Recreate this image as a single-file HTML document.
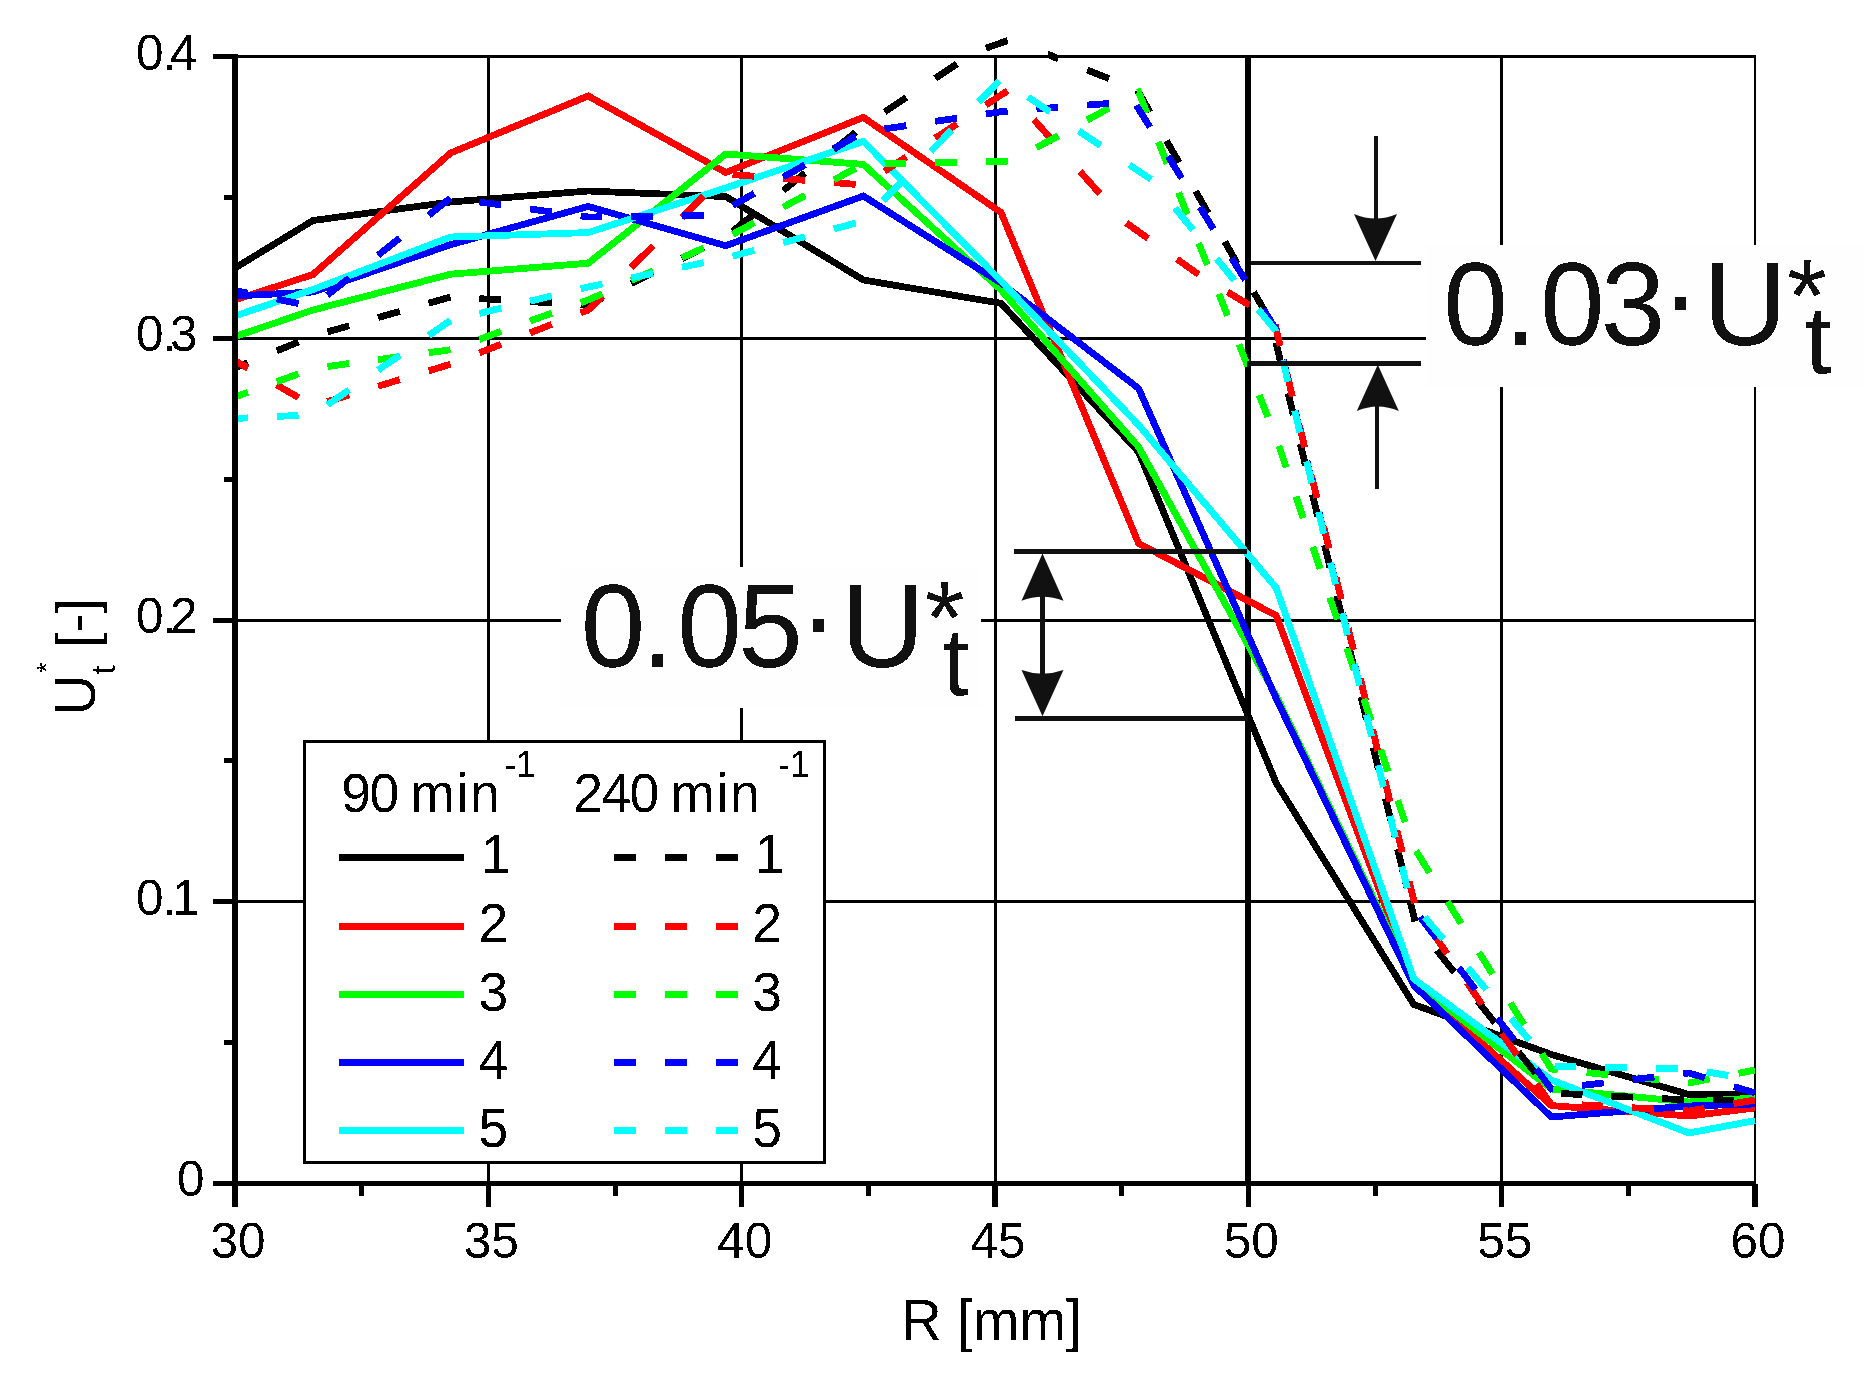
<!DOCTYPE html><html><head><meta charset="utf-8"><title>U*t vs R</title><style>html,body{margin:0;padding:0;background:#fff;overflow:hidden;}svg{display:block;}text{font-family:"Liberation Sans",Arial,sans-serif;filter:url(#bin);}line,polyline,rect{shape-rendering:crispEdges;}</style></head><body>
<svg width="1864" height="1373" viewBox="0 0 1864 1373">
<defs><filter id="bin" x="-20%" y="-20%" width="140%" height="140%" color-interpolation-filters="sRGB"><feComponentTransfer><feFuncA type="discrete" tableValues="0 1"/></feComponentTransfer></filter></defs>
<rect x="0" y="0" width="1864" height="1373" fill="#ffffff"/>
<line x1="235" y1="901.75" x2="1755" y2="901.75" stroke="#000" stroke-width="3"/>
<line x1="235" y1="620.00" x2="1755" y2="620.00" stroke="#000" stroke-width="3"/>
<line x1="235" y1="338.25" x2="1755" y2="338.25" stroke="#000" stroke-width="3"/>
<line x1="488.33" y1="56.5" x2="488.33" y2="1183.5" stroke="#000" stroke-width="3"/>
<line x1="741.67" y1="56.5" x2="741.67" y2="1183.5" stroke="#000" stroke-width="3"/>
<line x1="995.00" y1="56.5" x2="995.00" y2="1183.5" stroke="#000" stroke-width="3"/>
<line x1="1501.67" y1="56.5" x2="1501.67" y2="1183.5" stroke="#000" stroke-width="3"/>
<line x1="1248.33" y1="56.5" x2="1248.33" y2="1183.5" stroke="#000" stroke-width="6"/>
<line x1="233" y1="56.5" x2="1756" y2="56.5" stroke="#000" stroke-width="3"/>
<line x1="1755" y1="55" x2="1755" y2="1185" stroke="#000" stroke-width="2"/>
<polyline points="235.0,268.0 313.0,220.5 450.6,202.0 588.2,191.0 725.8,196.6 863.4,280.0 1001.0,303.3 1138.6,452.0 1276.2,783.0 1413.8,1004.5 1551.4,1054.5 1689.0,1094.5 1755.0,1094.5" fill="none" stroke="#000000" stroke-width="6.8" stroke-linejoin="miter" stroke-miterlimit="3"/>
<polyline points="235.0,300.0 313.0,274.5 450.6,153.0 588.2,96.0 725.8,172.5 863.4,117.4 1001.0,212.4 1138.6,543.3 1276.2,615.5 1413.8,982.0 1551.4,1105.6 1689.0,1116.0 1755.0,1108.0" fill="none" stroke="#ff0000" stroke-width="6.8" stroke-linejoin="miter" stroke-miterlimit="3"/>
<polyline points="235.0,336.6 313.0,310.0 450.6,274.2 588.2,263.2 725.8,154.0 863.4,164.4 1001.0,290.0 1138.6,447.0 1276.2,696.0 1413.8,982.0 1551.4,1089.0 1689.0,1102.0 1755.0,1098.0" fill="none" stroke="#00ff00" stroke-width="6.8" stroke-linejoin="miter" stroke-miterlimit="3"/>
<polyline points="235.0,296.0 313.0,292.0 450.6,244.7 588.2,206.4 725.8,245.7 863.4,196.0 1001.0,283.0 1138.6,388.4 1276.2,698.6 1413.8,985.3 1551.4,1117.0 1689.0,1106.0 1755.0,1104.0" fill="none" stroke="#0000ff" stroke-width="6.8" stroke-linejoin="miter" stroke-miterlimit="3"/>
<polyline points="235.0,316.0 313.0,289.5 450.6,237.0 588.2,232.6 725.8,188.0 863.4,141.4 1001.0,281.0 1138.6,425.0 1276.2,587.9 1413.8,978.9 1551.4,1080.0 1689.0,1133.0 1755.0,1120.6" fill="none" stroke="#00ffff" stroke-width="6.8" stroke-linejoin="miter" stroke-miterlimit="3"/>
<polyline points="235.0,368.0 313.0,336.0 450.6,297.0 588.2,305.0 725.8,236.8 863.4,126.0 975.0,52.0 1015.0,38.0 1055.0,57.5 1137.0,89.5 1271.0,322.0 1415.6,924.0 1551.4,1093.0 1689.0,1100.0 1755.0,1100.0" fill="none" stroke="#000000" stroke-width="6.8" stroke-dasharray="13.94 31.18 23.56 30.59 22.66 29.99 22.66 29.99 22.66 28.90 21.84 28.90 21.84 28.90 23.47 32.20 24.33 32.20 24.33 33.34 27.99 37.04 27.99 37.04 27.99 35.26 26.16 34.62 26.16 33.09 23.10 31.71 24.12 30.97 23.40 31.03 25.05 33.16 25.05 33.16 25.05 33.16 25.05 33.16 25.05 30.67 22.42 29.67 22.42 29.67 22.42 29.67 22.42 29.67 22.42 29.67 22.42 29.67 22.42 29.67 22.42 29.67 22.42 29.67 22.42 29.67 22.42 29.67 22.42 36.37 27.97 37.01 27.97 37.01 27.97 34.39 21.83 28.89 21.83 28.89 21.83 28.86 21.80 120.55" stroke-linejoin="miter" stroke-miterlimit="3"/>
<polyline points="235.0,360.7 313.0,406.0 450.6,364.2 588.2,310.0 725.8,174.0 863.4,185.0 1008.0,90.5 1125.0,222.0 1200.0,275.5 1274.0,320.0 1415.6,908.0 1550.0,1103.0 1689.0,1111.0 1755.0,1100.0" fill="none" stroke="#ff0000" stroke-width="6.8" stroke-dasharray="14.92 33.36 25.21 31.76 22.78 30.15 22.78 30.15 22.78 31.00 23.43 31.01 23.43 31.01 28.15 40.56 30.65 40.56 30.65 37.82 21.87 28.94 21.87 28.94 21.87 32.99 26.04 34.46 26.04 34.46 26.04 39.46 29.86 39.52 29.86 39.33 26.78 35.44 26.78 33.74 25.44 33.08 22.42 29.67 22.42 29.67 22.42 29.67 22.42 29.67 22.42 29.67 22.42 29.67 22.42 29.67 22.42 29.67 22.42 29.67 22.42 29.67 22.42 29.67 22.42 34.15 26.48 35.04 26.48 35.04 26.48 35.04 25.88 28.90 21.84 28.90 21.84 28.90 22.03 29.25 21.70 100.00" stroke-linejoin="miter" stroke-miterlimit="3"/>
<polyline points="235.0,397.0 313.0,368.5 450.6,349.7 588.2,300.0 725.8,238.0 863.4,164.0 1012.0,161.0 1138.6,92.0 1277.0,440.0 1413.0,846.0 1551.4,1069.0 1689.0,1083.0 1755.0,1070.0" fill="none" stroke="#00ff00" stroke-width="6.8" stroke-dasharray="13.73 30.72 23.21 29.92 22.00 29.12 22.00 29.12 22.00 30.67 23.18 30.67 23.18 30.67 23.66 31.64 23.91 31.64 23.91 31.91 24.75 32.76 24.75 32.76 24.75 29.90 21.80 28.86 21.80 28.86 21.80 32.25 24.83 32.86 24.83 32.86 23.51 31.05 23.46 31.05 23.46 31.05 23.46 31.05 23.46 31.05 23.46 31.05 23.46 30.92 22.99 30.43 22.99 30.43 22.99 30.43 22.99 30.43 22.99 30.43 22.99 30.43 22.99 30.43 22.99 31.03 25.66 33.95 25.66 33.95 25.66 33.95 25.66 33.95 24.57 29.00 21.91 29.00 21.91 29.00 22.20 29.40 16.77 100.00" stroke-linejoin="miter" stroke-miterlimit="3"/>
<polyline points="235.0,290.5 313.0,306.5 450.6,198.0 588.2,217.0 715.0,215.5 863.4,132.0 1001.0,111.7 1134.0,101.5 1276.2,329.7 1411.0,905.0 1551.4,1089.0 1689.0,1073.0 1755.0,1093.0" fill="none" stroke="#0000ff" stroke-width="6.8" stroke-dasharray="13.17 29.45 22.25 33.09 27.76 36.74 27.76 36.74 27.76 29.15 22.01 29.12 22.01 29.12 21.87 28.85 21.80 28.85 21.80 31.45 25.01 33.10 25.01 33.10 25.01 30.21 22.04 29.16 22.04 29.16 21.98 28.93 21.86 28.93 21.86 29.63 25.83 34.19 25.83 34.19 25.83 34.19 25.83 34.19 25.63 29.63 22.39 29.63 22.39 29.63 22.39 29.63 22.39 29.63 22.39 29.63 22.39 29.63 22.39 29.63 22.39 29.63 22.39 29.63 22.39 29.63 22.39 32.40 27.42 36.29 27.42 36.29 27.42 36.29 26.98 29.04 21.95 29.04 21.95 29.04 22.56 30.15 22.00 100.00" stroke-linejoin="miter" stroke-miterlimit="3"/>
<polyline points="235.0,418.5 313.0,414.7 450.6,320.4 588.2,287.0 725.8,258.0 863.4,221.0 1001.0,79.0 1152.0,180.0 1276.0,331.0 1410.0,900.0 1551.4,1066.0 1689.0,1069.0 1755.0,1080.0" fill="none" stroke="#00ffff" stroke-width="6.8" stroke-dasharray="12.92 28.88 21.83 31.92 26.43 34.97 26.43 34.97 26.43 29.71 22.43 29.69 22.43 29.69 22.33 29.48 22.28 29.48 22.28 29.58 22.57 29.87 22.57 29.87 22.57 36.62 29.52 39.07 29.52 39.07 29.52 34.97 26.23 34.71 26.23 34.71 26.23 37.26 28.21 37.33 28.21 37.33 28.17 29.64 22.40 29.64 22.40 29.64 22.40 29.64 22.40 29.64 22.40 29.64 22.40 29.64 22.40 29.64 22.40 29.64 22.40 29.64 22.40 29.64 22.40 34.55 28.64 37.90 28.64 37.90 28.64 36.93 21.81 28.86 21.81 28.86 21.81 29.09 22.10 127.12" stroke-linejoin="miter" stroke-miterlimit="3"/>
<rect x="1008" y="20" width="40" height="35" fill="#fff"/>
<line x1="233" y1="56.5" x2="1756" y2="56.5" stroke="#000" stroke-width="3"/>
<line x1="235" y1="54" x2="235" y2="1186" stroke="#000" stroke-width="6"/>
<line x1="232" y1="1183.5" x2="1756" y2="1183.5" stroke="#000" stroke-width="5"/>
<line x1="213" y1="1183.50" x2="235" y2="1183.50" stroke="#000" stroke-width="5"/>
<line x1="213" y1="901.75" x2="235" y2="901.75" stroke="#000" stroke-width="5"/>
<line x1="213" y1="620.00" x2="235" y2="620.00" stroke="#000" stroke-width="5"/>
<line x1="213" y1="338.25" x2="235" y2="338.25" stroke="#000" stroke-width="5"/>
<line x1="213" y1="56.50" x2="235" y2="56.50" stroke="#000" stroke-width="5"/>
<line x1="224" y1="1042.62" x2="235" y2="1042.62" stroke="#000" stroke-width="5"/>
<line x1="224" y1="760.88" x2="235" y2="760.88" stroke="#000" stroke-width="5"/>
<line x1="224" y1="479.12" x2="235" y2="479.12" stroke="#000" stroke-width="5"/>
<line x1="224" y1="197.38" x2="235" y2="197.38" stroke="#000" stroke-width="5"/>
<line x1="235.00" y1="1183.5" x2="235.00" y2="1207" stroke="#000" stroke-width="5.5"/>
<line x1="488.33" y1="1183.5" x2="488.33" y2="1207" stroke="#000" stroke-width="5.5"/>
<line x1="741.67" y1="1183.5" x2="741.67" y2="1207" stroke="#000" stroke-width="5.5"/>
<line x1="995.00" y1="1183.5" x2="995.00" y2="1207" stroke="#000" stroke-width="5.5"/>
<line x1="1248.33" y1="1183.5" x2="1248.33" y2="1207" stroke="#000" stroke-width="5.5"/>
<line x1="1501.67" y1="1183.5" x2="1501.67" y2="1207" stroke="#000" stroke-width="5.5"/>
<line x1="1755.00" y1="1183.5" x2="1755.00" y2="1207" stroke="#000" stroke-width="5.5"/>
<line x1="361.67" y1="1183.5" x2="361.67" y2="1196" stroke="#000" stroke-width="5"/>
<line x1="615.00" y1="1183.5" x2="615.00" y2="1196" stroke="#000" stroke-width="5"/>
<line x1="868.33" y1="1183.5" x2="868.33" y2="1196" stroke="#000" stroke-width="5"/>
<line x1="1121.67" y1="1183.5" x2="1121.67" y2="1196" stroke="#000" stroke-width="5"/>
<line x1="1375.00" y1="1183.5" x2="1375.00" y2="1196" stroke="#000" stroke-width="5"/>
<line x1="1628.33" y1="1183.5" x2="1628.33" y2="1196" stroke="#000" stroke-width="5"/>
<text x="136.1 162.5 169.9" y="69.5" font-size="49.5">0.4</text>
<text x="136.1 162.5 169.9" y="351.2" font-size="49.5">0.3</text>
<text x="136.1 162.5 169.9" y="633.0" font-size="49.5">0.2</text>
<text x="136.1 162.5 172.0" y="914.8" font-size="49.5">0.1</text>
<text x="177.1" y="1195.8" font-size="49.5">0</text>
<text x="238.0" y="1257.5" font-size="49.5" text-anchor="middle">30</text>
<text x="491.3" y="1257.5" font-size="49.5" text-anchor="middle">35</text>
<text x="744.7" y="1257.5" font-size="49.5" text-anchor="middle">40</text>
<text x="998.0" y="1257.5" font-size="49.5" text-anchor="middle">45</text>
<text x="1251.3" y="1257.5" font-size="49.5" text-anchor="middle">50</text>
<text x="1504.7" y="1257.5" font-size="49.5" text-anchor="middle">55</text>
<text x="1758.0" y="1257.5" font-size="49.5" text-anchor="middle">60</text>
<g transform="matrix(1,0,0,1.034,0,-45.55)"><text x="901.3" y="1339.8" font-size="56">R [mm]</text></g>
<g transform="translate(95.0,715.3) rotate(-90)"><g transform="scale(1,1.04)"><text x="0" y="0" font-size="56">U</text></g><text x="67.3" y="0" font-size="56">[-]</text><text x="40.7" y="19.7" font-size="34">t</text><text x="42" y="-39.5" font-size="28.5">*</text></g>
<rect x="304.5" y="741.5" width="520" height="421" fill="#fff" stroke="#000" stroke-width="3"/>
<g transform="matrix(1,0,0,1.04,0,-32.48)"><text x="341.2" y="812" font-size="53.4" letter-spacing="-1.5">90</text></g>
<g transform="matrix(1,0,0,1.04,0,-32.48)"><text x="410.2" y="812" font-size="53.4" letter-spacing="1.7">min</text></g>
<g transform="matrix(1,0,0,1.04,0,-31.08)"><text x="504.4" y="776.9" font-size="35">-1</text></g>
<g transform="matrix(1,0,0,1.04,0,-32.48)"><text x="573.2" y="812" font-size="53.4" letter-spacing="-1.5">240</text></g>
<g transform="matrix(1,0,0,1.04,0,-32.48)"><text x="670.2" y="812" font-size="53.4" letter-spacing="1.7">min</text></g>
<g transform="matrix(1,0,0,1.04,0,-31.08)"><text x="778.3" y="776.9" font-size="35">-1</text></g>
<line x1="338.8" y1="857.6" x2="464" y2="857.6" stroke="#000000" stroke-width="7"/>
<line x1="613.9" y1="857.6" x2="738" y2="857.6" stroke="#000000" stroke-width="7" stroke-dasharray="22 29"/>
<g transform="matrix(1,0,0,1.04,0,-34.91)"><text x="480.9" y="872.8" font-size="53.4">1</text></g>
<g transform="matrix(1,0,0,1.04,0,-34.91)"><text x="754.6" y="872.8" font-size="53.4">1</text></g>
<line x1="338.8" y1="926.1" x2="464" y2="926.1" stroke="#ff0000" stroke-width="7"/>
<line x1="613.9" y1="926.1" x2="738" y2="926.1" stroke="#ff0000" stroke-width="7" stroke-dasharray="22 29"/>
<g transform="matrix(1,0,0,1.04,0,-37.69)"><text x="478.6" y="942.2" font-size="53.4">2</text></g>
<g transform="matrix(1,0,0,1.04,0,-37.69)"><text x="752.3" y="942.2" font-size="53.4">2</text></g>
<line x1="338.8" y1="994.8" x2="464" y2="994.8" stroke="#00ff00" stroke-width="7"/>
<line x1="613.9" y1="994.8" x2="738" y2="994.8" stroke="#00ff00" stroke-width="7" stroke-dasharray="22 29"/>
<g transform="matrix(1,0,0,1.04,0,-40.44)"><text x="478.6" y="1010.9" font-size="53.4">3</text></g>
<g transform="matrix(1,0,0,1.04,0,-40.44)"><text x="752.3" y="1010.9" font-size="53.4">3</text></g>
<line x1="338.8" y1="1062.8" x2="464" y2="1062.8" stroke="#0000ff" stroke-width="7"/>
<line x1="613.9" y1="1062.8" x2="738" y2="1062.8" stroke="#0000ff" stroke-width="7" stroke-dasharray="22 29"/>
<g transform="matrix(1,0,0,1.04,0,-43.15)"><text x="478.6" y="1078.7" font-size="53.4">4</text></g>
<g transform="matrix(1,0,0,1.04,0,-43.15)"><text x="752.3" y="1078.7" font-size="53.4">4</text></g>
<line x1="338.8" y1="1130.3" x2="464" y2="1130.3" stroke="#00ffff" stroke-width="7"/>
<line x1="613.9" y1="1130.3" x2="738" y2="1130.3" stroke="#00ffff" stroke-width="7" stroke-dasharray="22 29"/>
<g transform="matrix(1,0,0,1.04,0,-45.87)"><text x="478.6" y="1146.8" font-size="53.4">5</text></g>
<g transform="matrix(1,0,0,1.04,0,-45.87)"><text x="752.3" y="1146.8" font-size="53.4">5</text></g>
<rect x="561" y="567" width="419.5" height="141" fill="#fefefe"/>
<g transform="matrix(1,0,0,1.03,0,-20.00)"><text x="580.66 641.71 677.36 738.26 798.93 840.76" y="666.6 666.6 666.6 666.6 658.1 666.6" font-size="116" fill="#111111">0.05·U</text></g>
<text x="924.5" y="653.9" font-size="103" fill="#111111">*</text>
<text x="942.5" y="695.2" font-size="96" fill="#111111">t</text>
<rect x="1426" y="245" width="438" height="142" fill="#fefefe"/>
<g transform="matrix(1,0,0,1.03,0,-10.33)"><text x="1443.26 1504.31 1539.96 1600.86 1661.53 1703.36" y="344.5 344.5 344.5 344.5 336.0 344.5" font-size="116" fill="#111111">0.03·U</text></g>
<text x="1787.1" y="331.8" font-size="103" fill="#111111">*</text>
<text x="1805.1" y="373.1" font-size="96" fill="#111111">t</text>
<line x1="1014" y1="551.4" x2="1247" y2="551.4" stroke="#111111" stroke-width="4.6"/>
<line x1="1015" y1="718.5" x2="1248" y2="718.5" stroke="#111111" stroke-width="4.5"/>
<line x1="1042.5" y1="590" x2="1042.5" y2="680" stroke="#111111" stroke-width="4.6"/>
<path d="M1042.5,553.4 L1021.5,600.7 Q1042.5,592.7 1063.5,600.7 Z" fill="#111111"/>
<path d="M1042.5,716.3 L1021.5,670.0 Q1042.5,677.4 1063.5,670.0 Z" fill="#111111"/>
<line x1="1250.5" y1="262.7" x2="1421" y2="262.7" stroke="#111111" stroke-width="3.6"/>
<line x1="1247" y1="363.4" x2="1421" y2="363.4" stroke="#111111" stroke-width="4.4"/>
<line x1="1375.5" y1="136" x2="1375.5" y2="222" stroke="#111111" stroke-width="4"/>
<path d="M1375.5,261.0 L1354.0,214.0 Q1375.5,223.0 1397.0,214.0 Z" fill="#111111"/>
<line x1="1377.3" y1="400" x2="1377.3" y2="488.7" stroke="#111111" stroke-width="3.8"/>
<path d="M1377.8,364.8 L1356.8,411.0 Q1377.8,402.0 1398.8,411.0 Z" fill="#111111"/>
</svg></body></html>
